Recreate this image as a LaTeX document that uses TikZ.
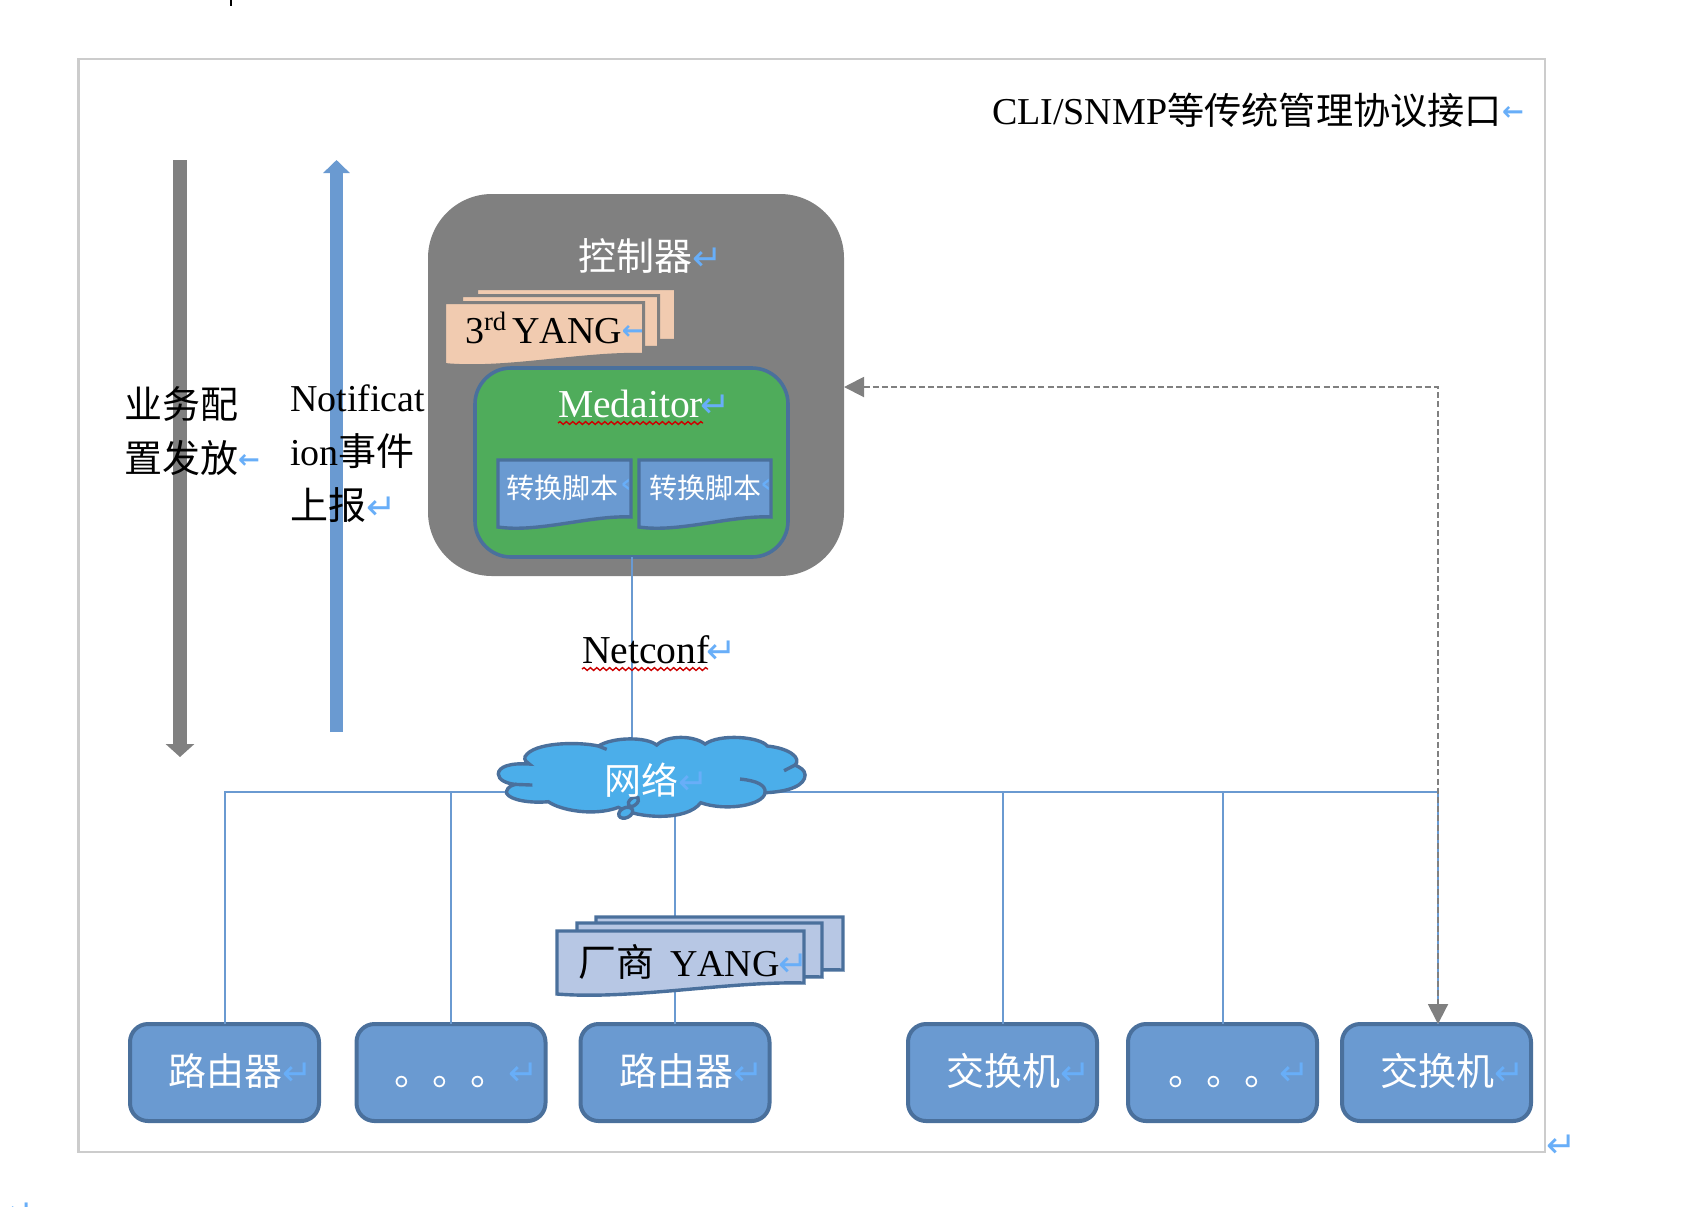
\documentclass[tikz,border=0pt]{standalone}
\usepackage{xcolor}
\usepackage{fontspec}
\usepackage{tikz}
\usetikzlibrary{arrows.meta,decorations.pathmorphing}
\setmainfont{Liberation Serif}
\newfontfamily\cjk{Noto Sans CJK SC}
\newfontfamily\dejavu{DejaVu Sans}
\definecolor{blueFill}{HTML}{6A9AD1}
\definecolor{blueEdge}{HTML}{4A709C}
\definecolor{markBlue}{HTML}{68AEF8}
\definecolor{midGray}{HTML}{808080}
\definecolor{peach}{HTML}{F1CBB0}
\definecolor{paleBlue}{HTML}{B7C7E4}
\definecolor{netBlue}{HTML}{4BAEEA}
\definecolor{medGreen}{HTML}{4FAC5B}
\newcommand{\zh}[1]{{\cjk #1}}
\newcommand{\retm}{{\dejavu\fontsize{18}{18}\selectfont\textcolor{markBlue}{↵}}}
\newcommand{\retcut}{\raisebox{1.8pt}{\dejavu\bfseries\fontsize{13}{13}\selectfont\textcolor{markBlue}{←}}}
\newcommand{\yang}{{\addfontfeatures{Kerning=Off}YANG}}
\newcommand{\wavedoc}[6]{\draw[#1] (#2,#3) -- (#4,#3) -- (#4,#5) .. controls ({#2+.7*(#4-#2)},{#5-2}) and ({#2+.3*(#4-#2)},{#6+6}) .. (#2,#6) -- cycle;}
\tikzset{
	txt/.style={inner sep=0pt,outer sep=0pt,font=\fontsize{19}{27}\selectfont},
	whitetxt/.style={txt,text=white},
	devbox/.style={draw=blueEdge,fill=blueFill,line width=2pt,rounded corners=9pt,minimum width=94.5pt,minimum height=48.5pt,inner sep=0pt,outer sep=0pt,text=white,text height=14pt,text depth=1pt,font=\fontsize{19}{27}\selectfont},
	scrdoc/.style={draw=blueEdge,fill=blueFill,line width=1.7pt,line join=miter},
	peachdoc/.style={draw=midGray,fill=peach,line width=1.5pt},
	paledoc/.style={draw=blueEdge,fill=paleBlue,line width=1.7pt},
	link/.style={draw=blueFill,line width=1pt},
	dashlink/.style={draw=midGray,line width=1pt,dash pattern=on 3pt off 1.6pt,{Triangle[width=10pt,length=10pt]}-{Triangle[width=10pt,length=10pt]}},
	squiggle/.style={draw=red!80!black,line width=.7pt,decorate,decoration={snake,segment length=3.2pt,amplitude=.7pt}}
}
\begin{document}
\begin{tikzpicture}[x=.5pt,y=-.5pt]
	\useasboundingbox (0,0) rectangle (1706,1206);
	\draw[line width=1.2pt,black] (231,0) -- (231,6);
	\draw[draw=black!20,line width=1.2pt] (78.5,59) rectangle (1545,1152);
	\node[txt,anchor=base west] (mgmt) at (992,124) {CLI/SNMP{\cjk\fontsize{18.6}{27}\selectfont 等传统管理协议接口}\retcut};

	\coordinate (cfgtop) at (180,160);
	\coordinate (cfgend) at (180,757);
	\coordinate (evtstart) at (336.5,732);
	\coordinate (evtend) at (336.5,160);
	\draw[midGray,line width=7pt,-{Triangle[width=14pt,length=6.5pt]}] (cfgtop) -- (cfgend);
	\draw[blueFill,line width=6.5pt,-{Triangle[width=13pt,length=6.5pt]}] (evtstart) -- (evtend);
	\node[txt,anchor=west,align=left] (cfgtxt) at (124,431) {\zh{业务配}\\\zh{置发放}\retcut};
	\node[txt,anchor=west,align=left] (evttxt) at (290,454) {Notificat\\ion\zh{事件}\\\zh{上报}\retm};

	\node[fill=midGray,rounded corners=32pt,minimum width=208pt,minimum height=191pt,inner sep=0pt,outer sep=0pt] (ctrl) at (636,385) {};
	\node[whitetxt,anchor=base west] (ctrltxt) at (578,270) {\zh{控制器}\retm};
	\wavedoc{peachdoc}{476.5}{288.5}{675.5}{340.5}{350}
	\wavedoc{peachdoc}{461.5}{295.5}{658.5}{347.5}{357}
	\wavedoc{peachdoc}{444.5}{302.5}{643.5}{354.5}{364.5}
	\node[txt,anchor=base west] (yang3) at (465,343) {3\textsuperscript{rd}\hspace{2.5pt}\yang\retcut};

	\node[draw=blueEdge,fill=medGreen,line width=1.8pt,rounded corners=18pt,minimum width=156.5pt,minimum height=94.5pt,inner sep=0pt,outer sep=0pt] (med) at (631.5,462.5) {};
	\node[whitetxt,font=\fontsize{19.8}{27}\selectfont,anchor=base west] (medtxt) at (558,417) {Medaitor\hspace{-1.2pt}\retm};
	\draw[squiggle] (558,423) -- (703,423);
	\wavedoc{scrdoc}{498}{460}{631}{517}{527}
	\wavedoc{scrdoc}{639}{460}{771}{517}{527}
	\node[whitetxt,font=\fontsize{14}{14}\selectfont,anchor=base west] (scr1) at (506,498) {\zh{转换脚本}};
	\node[whitetxt,font=\fontsize{14}{14}\selectfont,anchor=base west] (scr2) at (649,498) {\zh{转换脚本}};
	\node[text=markBlue,inner sep=0pt,font=\dejavu\bfseries\fontsize{13}{13}\selectfont] (scrm1) at (626,486) {‹};
	\node[text=markBlue,inner sep=0pt,font=\dejavu\bfseries\fontsize{13}{13}\selectfont] (scrm2) at (766,486) {‹};

	\node[devbox] (rt1) at (224.5,1072.5) {\hspace{16.5pt}\zh{路由器}\retm};
	\node[devbox] (dots1) at (451,1072.5) {\hspace{15.2pt}\zh{。。。}\retm};
	\node[devbox] (rt2) at (675,1072.5) {\hspace{16.5pt}\zh{路由器}\retm};
	\node[devbox] (sw1) at (1002.5,1072.5) {\hspace{16pt}\zh{交换机}\retm};
	\node[devbox] (dots2) at (1222.5,1072.5) {\hspace{16.85pt}\zh{。。。}\hspace{-1.65pt}\retm};
	\node[devbox] (sw2) at (1436.5,1072.5) {\hspace{16pt}\zh{交换机}\retm};

	\coordinate (bus) at (652,792);
	\draw[link] (med.south) -- (med.south |- bus);
	\draw[link] (rt2.north) -- (rt2.north |- bus);
	\draw[link] (rt1.north) |- (bus);
	\draw[link] (dots1.north) |- (bus);
	\draw[link] (sw1.north) |- (bus);
	\draw[link] (dots2.north) |- (bus);
	\draw[link] ([xshift=.75pt]sw2.north) |- (bus);
	\draw[dashlink] ([yshift=-1pt]ctrl.east) -| ([xshift=.75pt]sw2.north);

	\node[txt,font=\fontsize{19.8}{27}\selectfont,anchor=base west] (nc) at (582,663) {Netconf\hspace{-1.5pt}\retm};
	\draw[squiggle] (582,669) -- (708,669);

	\begin{scope}[shift={(480,620)},x=.1667pt,y=-.1667pt,draw=blueEdge,line width=1.7pt]
		\draw[fill=netBlue] (148,432) .. controls (90,428) and (55,440) .. (55,462) .. controls (55,480) and (80,490) .. (105,493) .. controls (85,498) and (78,510) .. (80,520) .. controls (90,540) and (150,550) .. (205,545) .. controls (240,570) and (340,590) .. (415,562) .. controls (470,595) and (620,605) .. (662,548) .. controls (740,575) and (850,555) .. (855,518) .. controls (930,515) and (975,495) .. (975,465) .. controls (975,450) and (960,442) .. (945,435) .. controls (965,415) and (930,385) .. (862,378) .. controls (840,350) and (720,340) .. (675,372) .. controls (640,345) and (560,345) .. (530,375) .. controls (500,350) and (400,350) .. (355,378) .. controls (300,365) and (160,365) .. (135,410) .. controls (132,420) and (140,428) .. (148,432) -- cycle;
		\draw (105,493) -- (157,495);
		\draw (780,477) .. controls (830,482) and (858,495) .. (855,518);
		\draw (945,435) -- (912,452);
		\draw (355,378) -- (380,388);
		\draw[fill=netBlue,rotate around={25:(437,578)}] (437,578) ellipse (22 and 15);
		\draw[fill=netBlue,rotate around={40:(460,545)}] (460,545) ellipse (18 and 11);
	\end{scope}
	\node[whitetxt,font=\fontsize{18.5}{27}\selectfont,anchor=base west] (net) at (604,794) {\zh{网络}\textcolor{blueFill}{\retm}};

	\wavedoc{paledoc}{596}{917}{843}{970}{980}
	\wavedoc{paledoc}{577}{923}{822}{977}{987}
	\wavedoc{paledoc}{557}{931}{804}{983}{994}
	\node[txt,anchor=base west] (yangv) at (578,976) {\zh{厂商}\hspace{8pt}\yang\hspace{-.5pt}\retm};

	\node[inner sep=0pt] (endm) at (1562,1146) {\retm};
	\node[inner sep=0pt] (pagem) at (20,1214) {\retm};
\end{tikzpicture}
\end{document}
